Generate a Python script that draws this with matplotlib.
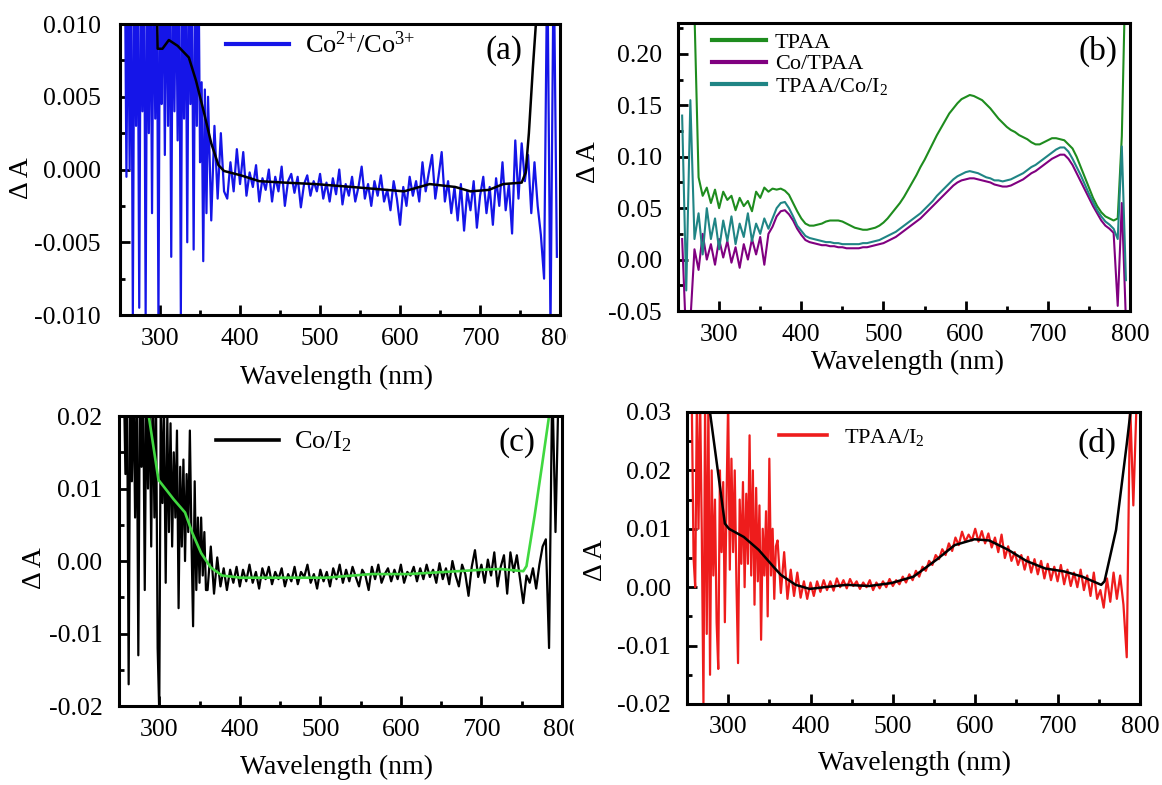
import numpy as np
import matplotlib.pyplot as plt
from matplotlib.ticker import MultipleLocator, FormatStrFormatter
from matplotlib.patches import Rectangle

plt.rcParams['font.family'] = ['Liberation Serif', 'DejaVu Serif']
plt.rcParams['mathtext.fontset'] = 'custom'
plt.rcParams['mathtext.rm'] = 'Liberation Serif'
plt.rcParams['mathtext.it'] = 'Liberation Serif:italic'
plt.rcParams['mathtext.bf'] = 'Liberation Serif:bold'

# ---------------- data ----------------
# noisy spectra: every 2 nm from 256 to 358 nm, then every 4 nm from 360 nm

# (a) Co2+/Co3+, units of 1e-4
co23_uv = [150, -5, 150, 0, 150, -100, 150, 30, 150, -95,
           150, 40, 150, -100, 150, 25, 150, -30, 150, 35,
           150, -105, 150, 45, 150, 10, 150, 30, 150, -60,
           150, 40, 150, 20, 150, -100, 150, 35, 150, -50,
           150, 45, 120, -55, 130, 30, 150, 5, 60, -63,
           55, -30]
co23_vis = [50, -35, 30, -20,
            25, -15, -20, 5, -15, 14, -10, 12, -18, -2,
            -12, 3, -22, -6, -14, 0, -22, -5, -15, 2,
            -25, -8, -3, -16, -5, -26, -10, -4, -18, -8,
            -15, -3, -20, -9, -22, -6, -17, 0, -24, -10,
            -18, -5, -22, -12, 2, -20, -10, -25, -8, -18,
            -4, -22, -14, -28, -8, -20, -38, -12, -25, -5,
            -18, -8, -22, 5, -15, -2, 10, -20, -5, 12,
            -22, -8, -30, -12, -35, -10, -42, -15, -28, -8,
            -40, -18, -5, -30, -12, -38, -6, -25, 5, -28,
            -10, -44, 20, -20, 18, -8, 10, -30, 5, -25,
            -45, -75, 150, -110, 150, -60]
co23_fit_wl = [295, 297, 303, 311, 322, 336, 345, 355, 364, 373, 380, 401, 424, 456,
               494, 540, 605, 637, 669, 688, 711, 729, 752, 757, 761, 766, 771, 775]
co23_fit = [150, 83, 83, 89, 85, 77, 61, 39, 18, 3, -1, -4, -8, -9,
            -10, -12, -15, -10, -12, -15, -14, -10, -9, -2, 25, 70, 110, 200]

# (b) units of 1e-3, every 5 nm from 255 nm
tpaa = [400, 400, 350, 240, 80, 62, 70, 55, 68, 50,
        66, 58, 62, 48, 60, 52, 57, 47, 66, 60,
        70, 66, 69, 68, 69, 67, 63, 55, 47, 40,
        35, 33, 33, 34, 35, 37, 38, 38, 38, 37,
        35, 33, 31, 30, 29, 29, 30, 31, 33, 36,
        40, 45, 50, 55, 61, 68, 75, 82, 90, 97,
        105, 113, 121, 128, 135, 142, 147, 152, 156, 158,
        160, 159, 157, 155, 151, 147, 142, 137, 133, 129,
        126, 124, 121, 119, 117, 114, 112, 112, 114, 116,
        118, 118, 117, 116, 112, 108, 100, 90, 80, 70,
        60, 52, 46, 42, 40, 38, 40, 120, 300]
co_tpaa = [20, -80, -60, 10, -10, 25, 0, 15, -5, 20,
           2, 18, -3, 12, -8, 15, 0, 20, 5, 22,
           -5, 25, 32, 42, 47, 48, 44, 38, 30, 24,
           19, 17, 16, 15, 14, 14, 13, 13, 12, 12,
           11, 11, 11, 11, 12, 12, 13, 14, 15, 16,
           18, 20, 22, 25, 28, 31, 34, 37, 40, 44,
           48, 52, 56, 60, 64, 68, 72, 75, 77, 78,
           79, 79, 78, 77, 76, 75, 73, 72, 71, 71,
           72, 74, 76, 78, 81, 84, 86, 89, 92, 95,
           98, 100, 102, 102, 98, 92, 84, 76, 68, 60,
           52, 45, 38, 33, 30, 26, -45, 55, -60]
tpaa_co_i2 = [140, -30, 155, 20, 45, 5, 50, 20, 40, 10,
              38, 18, 42, 15, 35, 22, 45, 18, 35, 25,
              40, 30, 40, 50, 55, 56, 50, 42, 33, 28,
              23, 21, 20, 19, 18, 17, 17, 16, 16, 15,
              15, 15, 15, 15, 16, 16, 17, 18, 19, 21,
              23, 25, 27, 30, 33, 36, 39, 42, 45, 49,
              53, 57, 62, 66, 70, 74, 78, 81, 83, 85,
              86, 85, 84, 82, 80, 79, 77, 77, 76, 77,
              78, 80, 82, 84, 87, 90, 92, 95, 98, 101,
              104, 107, 109, 109, 105, 98, 90, 82, 73, 64,
              56, 48, 42, 37, 34, 30, 20, 110, -20]

# (c) Co/I2, units of 1e-4
co_i2_uv = [250, 120, 250, -170, 250, 110, 250, 60, 250, -130,
            250, 130, 250, -40, 250, 100, 250, 20, 250, 60,
            220, -120, -210, 250, 80, 200, -30, 200, 40, 190,
            20, 150, 60, 180, -65, 130, 20, 140, 0, 120,
            40, 180, 30, -90, 110, -40, 60, -30, 60, -20,
            40, -40]
co_i2_vis = [-40, 20, -45, 5,
             -35, -10, -40, -12, -30, -8, -35, -12, -28, -5,
             -30, -15, -38, -10, -25, -8, -32, -15, -25, -10,
             -35, -18, -28, -8, -32, -15, -22, -5, -30, -18,
             -38, -12, -28, -15, -35, -10, -25, -5, -30, -12,
             -28, -8, -22, -35, -12, -20, -40, -8, -25, -5,
             -30, -18, -10, -28, -12, -25, -5, -30, -15, -20,
             -8, -28, -10, -25, -5, -22, -12, -30, -3, -25,
             -10, -32, 0, -20, -35, -5, -18, -48, -8, 15,
             -22, -5, -30, 2, -20, 12, -35, -8, 8, -45,
             12, -15, 8, -25, -58, -20, -30, -10, -38, -5,
             20, 30, -120, 250, 40, 250]
co_i2_fit_wl = [283, 287, 299, 318, 332, 341, 352, 364, 378, 401, 452, 507,
                563, 609, 655, 701, 724, 752, 756, 766, 775, 784, 788]
co_i2_fit = [270, 200, 112, 85, 67, 39, 11, -9, -20, -23, -23, -23,
             -18, -18, -15, -12, -11, -14, -7, 62, 130, 200, 260]

# (d) TPAA/I2, units of 1e-4
tpaa_i2_uv = [300, 50, 0, 320, 100, 320, 90, -200, 320, -80,
              320, -150, 200, 20, 150, -60, -140, 200, 60, 180,
              -60, 150, 320, 30, 220, 60, 200, 10, -130, 150,
              40, 180, 0, 160, 40, 260, 20, 200, -30, 170,
              10, 140, -90, 100, 20, 130, -50, 220, 20, 100,
              -20, 70]
tpaa_i2_vis = [80, -10, 60, -20,
               30, -15, 25, -18, 10, -20, 8, -15, 10, -8,
               12, -5, 10, -6, 15, 0, 12, -2, 14, 2,
               10, -3, 8, 0, 12, -5, 8, -2, 10, 0,
               14, 2, 12, 5, 18, 8, 22, 12, 28, 18,
               35, 28, 45, 38, 55, 48, 65, 55, 75, 62,
               85, 72, 95, 78, 90, 80, 100, 78, 96, 75,
               92, 68, 85, 60, 90, 50, 70, 45, 60, 38,
               55, 30, 52, 25, 48, 22, 45, 15, 40, 12,
               35, 10, 38, 5, 30, 2, 25, 0, 30, -5,
               20, -15, 25, -20, -5, -35, 15, -25, 25, -20,
               20, -30, -120, 320, 140, 320]
tpaa_i2_fit_wl = [276, 296, 301, 319, 337, 355, 364, 382, 399, 417, 444, 471, 498, 525,
                  553, 575, 599, 617, 640, 662, 685, 708, 730, 753, 757, 771, 784, 791]
tpaa_i2_fit = [320, 109, 100, 86, 64, 35, 21, 4, -3, 0, 4, 2, 7, 18,
               47, 72, 82, 80, 64, 45, 32, 27, 18, 4, 10, 98, 245, 330]


def grid(vals, start, step):
    return np.arange(start, start + step * len(vals), step)


def spectrum(uv, vis, scale):
    x = np.concatenate([grid(uv, 256, 2), grid(vis, 360, 4)])
    y = np.array(uv + vis) * scale
    return x, y


def style(ax, ylim, ymajor, yfmt, ypad):
    ax.set_xlim(250, 800)
    ax.set_ylim(*ylim)
    ax.xaxis.set_major_locator(MultipleLocator(100))
    ax.xaxis.set_minor_locator(MultipleLocator(50))
    ax.yaxis.set_major_locator(MultipleLocator(ymajor))
    ax.yaxis.set_minor_locator(MultipleLocator(ymajor / 2))
    ax.yaxis.set_major_formatter(FormatStrFormatter(yfmt))
    ax.tick_params(which='both', direction='in', top=False, right=False, width=2, labelsize=18.5)
    ax.tick_params(which='major', length=7)
    ax.tick_params(which='minor', length=3.5)
    ax.tick_params(axis='x', pad=9)
    ax.tick_params(axis='y', pad=ypad)
    for s in ax.spines.values():
        s.set_linewidth(2.2)
    ax.set_xlabel('Wavelength (nm)', fontsize=20)
    ax.set_ylabel('Δ A', fontsize=20)
    ax.xaxis.label.set_va('center')
    ax.yaxis.label.set_va('center')


fig = plt.figure(figsize=(11.62, 7.85), dpi=100)
ax_a = fig.add_axes([0.1033, 0.5987, 0.3787, 0.3707])
ax_b = fig.add_axes([0.5835, 0.6038, 0.3890, 0.3669])
ax_c = fig.add_axes([0.1024, 0.1006, 0.3812, 0.3694])
ax_d = fig.add_axes([0.5912, 0.1032, 0.3898, 0.3720])

# (a)
x, y = spectrum(co23_uv, co23_vis, 1e-4)
ax_a.plot(x, y, color='#1515e8', lw=1.6, label=r'Co$^{2{+}}$/Co$^{3{+}}$')
ax_a.plot(co23_fit_wl, np.array(co23_fit) * 1e-4, color='black', lw=1.8)
style(ax_a, (-0.010, 0.010), 0.005, '%.3f', 14)
leg = ax_a.legend(loc='center left', bbox_to_anchor=(0.24, 0.928), frameon=False,
                  borderpad=0, borderaxespad=0, handlelength=2.4, handletextpad=0.6, fontsize=19)
for ln in leg.get_lines():
    ln.set_linewidth(3)
ax_a.text(0.873, 0.91, '(a)', transform=ax_a.transAxes, ha='center', va='center', fontsize=24)
ax_a.xaxis.set_label_coords(0.493, -0.213)
ax_a.yaxis.set_label_coords(-0.223, 0.47)

# (b)
ax_b.plot(grid(tpaa, 255, 5), np.array(tpaa) * 1e-3, color='#1e8c1e', lw=1.5, label='TPAA')
ax_b.plot(grid(co_tpaa, 255, 5), np.array(co_tpaa) * 1e-3, color='#800080', lw=1.5, label='Co/TPAA')
ax_b.plot(grid(tpaa_co_i2, 255, 5), np.array(tpaa_co_i2) * 1e-3, color='#208585', lw=1.5,
          label=r'TPAA/Co/I$_2$')
style(ax_b, (-0.05, 0.23), 0.05, '%.2f', 11.5)
leg = ax_b.legend(loc='upper left', bbox_to_anchor=(0.075, 0.968), frameon=False,
                  borderpad=0, borderaxespad=0, handlelength=2.43, handletextpad=0.4,
                  labelspacing=0.05, fontsize=16)
for ln in leg.get_lines():
    ln.set_linewidth(3)
ax_b.text(0.93, 0.90, '(b)', transform=ax_b.transAxes, ha='center', va='center', fontsize=24)
ax_b.xaxis.set_label_coords(0.507, -0.18)
ax_b.yaxis.set_label_coords(-0.197, 0.517)

# (c)
x, y = spectrum(co_i2_uv, co_i2_vis, 1e-4)
ax_c.plot(x, y, color='black', lw=1.6, label=r'Co/I$_2$')
ax_c.plot(co_i2_fit_wl, np.array(co_i2_fit) * 1e-4, color='#40d840', lw=1.9)
style(ax_c, (-0.02, 0.02), 0.01, '%.2f', 12)
leg = ax_c.legend(loc='center left', bbox_to_anchor=(0.219, 0.91), frameon=False,
                  borderpad=0, borderaxespad=0, handlelength=2.4, handletextpad=0.57, fontsize=19)
for ln in leg.get_lines():
    ln.set_linewidth(2.6)
ax_c.text(0.898, 0.907, '(c)', transform=ax_c.transAxes, ha='center', va='center', fontsize=24)
ax_c.xaxis.set_label_coords(0.49, -0.21)
ax_c.yaxis.set_label_coords(-0.19, 0.476)

# (d)
x, y = spectrum(tpaa_i2_uv, tpaa_i2_vis, 1e-4)
ax_d.plot(x, y, color='#ee1c1c', lw=1.6, label=r'TPAA/I$_2$')
ax_d.plot(tpaa_i2_fit_wl, np.array(tpaa_i2_fit) * 1e-4, color='black', lw=1.8)
style(ax_d, (-0.02, 0.03), 0.01, '%.2f', 11.5)
leg = ax_d.legend(loc='center left', bbox_to_anchor=(0.203, 0.914), frameon=False,
                  borderpad=0, borderaxespad=0, handlelength=2.16, handletextpad=0.77, fontsize=16)
for ln in leg.get_lines():
    ln.set_linewidth(2.6)
ax_d.text(0.905, 0.894, '(d)', transform=ax_d.transAxes, ha='center', va='center', fontsize=24)
ax_d.xaxis.set_label_coords(0.503, -0.202)
ax_d.yaxis.set_label_coords(-0.203, 0.493)

# the source image is cropped just right of the left-hand panels
W, H = 1162, 785
fig.add_artist(Rectangle((568 / W, 1 - 358 / H), 22 / W, 36 / H, transform=fig.transFigure,
                         color='white', zorder=20))
fig.add_artist(Rectangle((574 / W, 1 - 750 / H), 16 / W, 36 / H, transform=fig.transFigure,
                         color='white', zorder=20))

fig.savefig('out.png', dpi=100)
